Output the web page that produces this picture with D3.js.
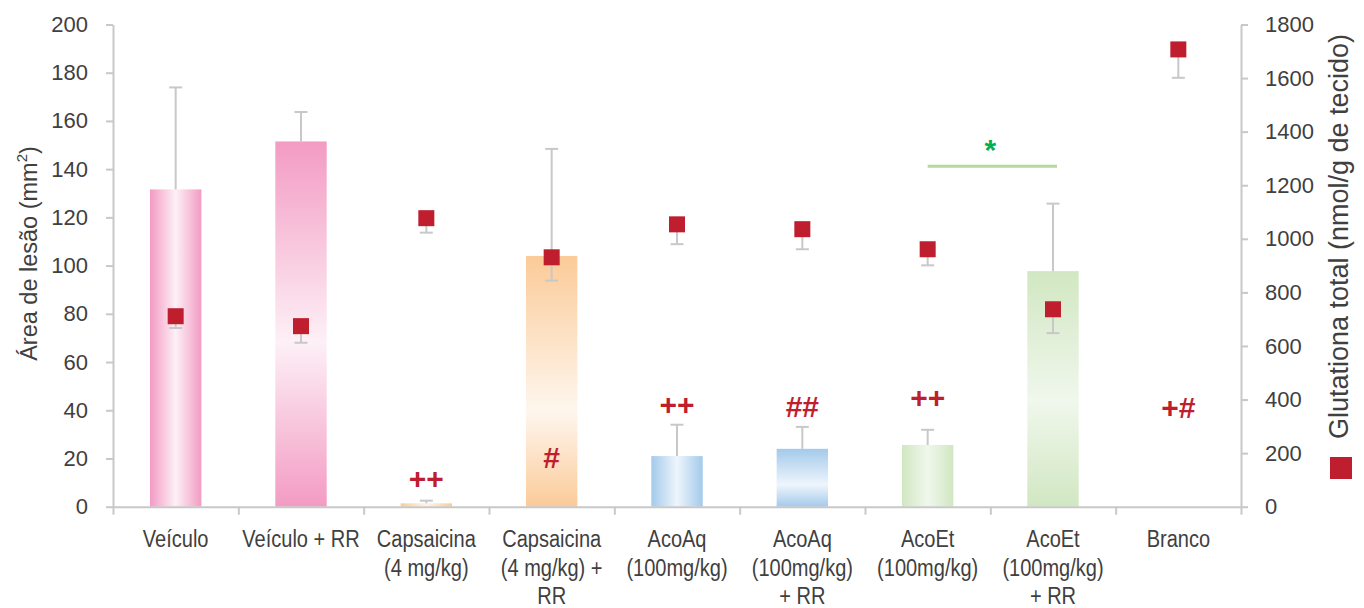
<!DOCTYPE html>
<html>
<head>
<meta charset="utf-8">
<script src="https://cdn.jsdelivr.net/npm/d3@7"></script>
<style>
  html, body { margin: 0; padding: 0; background: #fff; }
  svg { display: block; }
  text { font-family: "Liberation Sans", Arial, sans-serif; fill: #404040; }
</style>
</head>
<body>
<svg id="chart" width="1364" height="608"></svg>
<script>
// Groups (x-axis labels, one entry per line)
const categories = ["Veículo", "Veículo + RR", "Capsaicina 4", "Capsaicina 4 + RR", "AcoAq", "AcoAq + RR", "AcoEt", "AcoEt + RR", "Branco"];
const categoryLines = [
  ["Veículo"],
  ["Veículo + RR"],
  ["Capsaicina", "(4 mg/kg)"],
  ["Capsaicina", "(4 mg/kg) +", "RR"],
  ["AcoAq", "(100mg/kg)"],
  ["AcoAq", "(100mg/kg)", "+ RR"],
  ["AcoEt", "(100mg/kg)"],
  ["AcoEt", "(100mg/kg)", "+ RR"],
  ["Branco"]
];

// Lesion area (mm²), left axis — bars with upper error
const lesionArea = [131.6, 151.5, 1.4, 104, 21, 24, 25.6, 97.7, 0];
const lesionErr  = [42.3, 12.2, 1.1, 44.4, 13, 9.1, 6.3, 28];

// Total glutathione (nmol/g tissue), right axis — squares with lower error
const glutathione    = [711, 674, 1077, 931, 1054, 1036, 961, 737, 1707];
const glutathioneErr = [44, 62, 54, 87, 74, 75, 60, 89, 106];

// Axis ticks
const leftTicks  = [0, 20, 40, 60, 80, 100, 120, 140, 160, 180, 200];
const rightTicks = [0, 200, 400, 600, 800, 1000, 1200, 1400, 1600, 1800];

// Significance marks: group index, symbol, height on the lesion axis
const marks = [
  { group: 2, text: "++", value: 12 },
  { group: 3, text: "#",  value: 20.6 },
  { group: 4, text: "++", value: 42.5 },
  { group: 5, text: "##", value: 41.7 },
  { group: 6, text: "++", value: 45.6 },
  { group: 8, text: "+#", value: 41.4 }
];
// Bracket between AcoEt and AcoEt + RR, asterisk above it
const bracket = { from: 6, to: 7, value: 141.2, starValue: 151.5, text: "*" };

// Bar fills: edge colour, centre colour, gradient direction
const barStyles = [
  { edge: "#F39BC3", mid: "#FDF0F6", dir: "h" },
  { edge: "#F39BC3", mid: "#FDF0F6", dir: "v", stop: 0.55 },
  { edge: "#FBCB98", mid: "#FEF5EC", dir: "h" },
  { edge: "#FBCB98", mid: "#FEF6EE", dir: "v", stop: 0.62 },
  { edge: "#A3CAEB", mid: "#EEF5FC", dir: "h" },
  { edge: "#A3CAEB", mid: "#EEF5FC", dir: "v", stop: 0.62 },
  { edge: "#D1E7C2", mid: "#F0F7EC", dir: "h" },
  { edge: "#D1E7C2", mid: "#F0F7EC", dir: "v", stop: 0.55 },
  { edge: "#cccccc", mid: "#ffffff", dir: "h" }
];

const svg = d3.select("#chart");
const plot = { left: 113, right: 1241, top: 24.5, bottom: 506.7 };
const axisColor = "#c8c8c8";
const red = "#BE1E2D";

const x = d3.scaleBand().domain(categories).range([plot.left, plot.right]).padding(0);
const xEdge = d3.scaleLinear().domain([0, categories.length]).range([plot.left, plot.right]);
const yL = d3.scaleLinear().domain([0, 200]).range([plot.bottom, plot.top]);
const yR = d3.scaleLinear().domain([0, 1800]).range([plot.bottom, plot.top]);
const barW = x.bandwidth() * 0.41;
const cx = i => x(categories[i]) + x.bandwidth() / 2;

// Gradients
const defs = svg.append("defs");
barStyles.forEach((s, i) => {
  const g = defs.append("linearGradient").attr("id", "grad" + i);
  if (s.dir === "h") {
    g.attr("x1", 0).attr("y1", 0).attr("x2", 1).attr("y2", 0);
    g.append("stop").attr("offset", 0).attr("stop-color", s.edge);
    g.append("stop").attr("offset", 0.5).attr("stop-color", s.mid);
    g.append("stop").attr("offset", 1).attr("stop-color", s.edge);
  } else {
    g.attr("x1", 0).attr("y1", 0).attr("x2", 0).attr("y2", 1);
    g.append("stop").attr("offset", 0).attr("stop-color", s.edge);
    g.append("stop").attr("offset", s.stop).attr("stop-color", s.mid);
    g.append("stop").attr("offset", 1).attr("stop-color", s.edge);
  }
});

// Bars
svg.append("g").selectAll("rect").data(lesionArea).join("rect")
  .attr("x", (d, i) => cx(i) - barW / 2)
  .attr("y", d => yL(d))
  .attr("width", barW)
  .attr("height", d => yL(0) - yL(d))
  .attr("fill", (d, i) => `url(#grad${i})`);

// Bar error bars (upper)
const errG = svg.append("g").attr("stroke", axisColor).attr("stroke-width", 2).attr("fill", "none");
lesionErr.forEach((e, i) => {
  const v = lesionArea[i];
  errG.append("line").attr("x1", cx(i)).attr("x2", cx(i)).attr("y1", yL(v)).attr("y2", yL(v + e));
  errG.append("line").attr("x1", cx(i) - 6.5).attr("x2", cx(i) + 6.5).attr("y1", yL(v + e)).attr("y2", yL(v + e));
});

// Axes
const axisLeft = d3.axisLeft(yL).tickValues(leftTicks).tickSize(7).tickSizeOuter(0).tickPadding(18);
const gL = svg.append("g").attr("transform", `translate(${plot.left},0)`).call(axisLeft);
const axisRight = d3.axisRight(yR).tickValues(rightTicks).tickFormat(d3.format("d")).tickSize(7).tickSizeOuter(0).tickPadding(17);
const gR = svg.append("g").attr("transform", `translate(${plot.right},0)`).call(axisRight);
const axisBottom = d3.axisBottom(xEdge).tickValues(d3.range(categories.length + 1)).tickSize(8).tickSizeOuter(0).tickFormat("");
const gB = svg.append("g").attr("transform", `translate(0,${plot.bottom})`).call(axisBottom);
[gL, gR, gB].forEach(g => {
  g.selectAll("path, line").attr("stroke", axisColor).attr("stroke-width", 2);
  g.selectAll("text").style("font-size", "22px").attr("fill", "#404040")
    .style("font-family", '"Liberation Sans", Arial, sans-serif');
});

// Category labels (condensed face)
const lab = svg.append("g").attr("text-anchor", "middle").style("font-size", "23px");
categoryLines.forEach((lines, i) => {
  lines.forEach((ln, k) => {
    lab.append("text")
      .attr("transform", `translate(${cx(i)},${547 + k * 28.5}) scale(0.87,1)`)
      .text(ln);
  });
});

// Glutathione error bars (lower) and squares
const gErr = svg.append("g").attr("stroke", axisColor).attr("stroke-width", 2);
glutathioneErr.forEach((e, i) => {
  const v = glutathione[i];
  gErr.append("line").attr("x1", cx(i)).attr("x2", cx(i)).attr("y1", yR(v)).attr("y2", yR(v - e));
  gErr.append("line").attr("x1", cx(i) - 6.5).attr("x2", cx(i) + 6.5).attr("y1", yR(v - e)).attr("y2", yR(v - e));
});
const sq = 16;
svg.append("g").selectAll("rect").data(glutathione).join("rect")
  .attr("x", (d, i) => cx(i) - sq / 2)
  .attr("y", d => yR(d) - sq / 2)
  .attr("width", sq).attr("height", sq)
  .attr("fill", red);

// Significance symbols
svg.append("g").selectAll("text").data(marks).join("text")
  .attr("x", d => cx(d.group))
  .attr("y", d => yL(d.value))
  .attr("dy", "0.36em")
  .attr("text-anchor", "middle")
  .style("font-size", "30px").style("font-weight", "bold")
  .style("fill", red)
  .text(d => d.text);

// Bracket and asterisk
svg.append("line")
  .attr("x1", cx(bracket.from)).attr("x2", cx(bracket.to) + 4)
  .attr("y1", yL(bracket.value)).attr("y2", yL(bracket.value))
  .attr("stroke", "#B5D99E").attr("stroke-width", 3);
svg.append("text")
  .attr("x", (cx(bracket.from) + cx(bracket.to)) / 2)
  .attr("y", yL(bracket.starValue))
  .attr("dy", "0.62em")
  .attr("text-anchor", "middle")
  .style("font-size", "30px").style("font-weight", "bold")
  .style("fill", "#00B050")
  .text(bracket.text);

// Axis titles
const tl = svg.append("text")
  .attr("transform", `translate(37,253.5) rotate(-90)`)
  .attr("text-anchor", "middle")
  .style("font-size", "23.5px");
tl.append("tspan").text("Área de lesão (mm");
tl.append("tspan").attr("dy", -10).style("font-size", "15px").text("2");
tl.append("tspan").attr("dy", 10).text(")");

svg.append("text")
  .attr("transform", `translate(1348,236.5) rotate(-90)`)
  .attr("text-anchor", "middle")
  .style("font-size", "27px")
  .text("Glutationa total (nmol/g de tecido)");

// Legend swatch for the glutathione series
svg.append("rect").attr("x", 1330).attr("y", 457).attr("width", 22).attr("height", 22).attr("fill", red);
</script>
</body>
</html>
